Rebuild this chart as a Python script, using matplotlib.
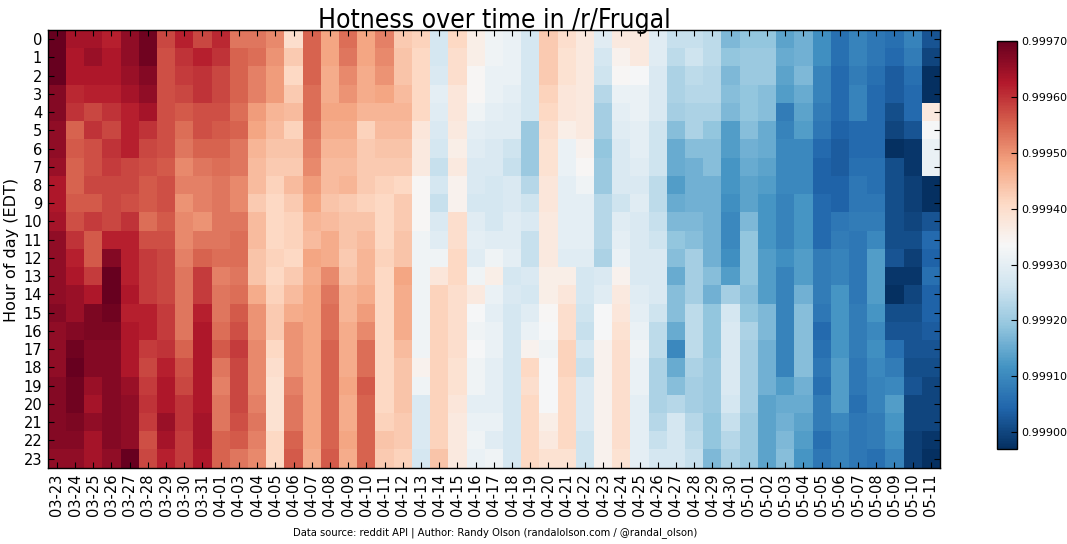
import matplotlib
matplotlib.use("Agg")
import matplotlib.pyplot as plt
import matplotlib.font_manager as fm
import numpy as np

dates = ["03-23", "03-24", "03-25", "03-26", "03-27", "03-28", "03-29", "03-30", "03-31",
         "04-01", "04-03", "04-04", "04-05", "04-06", "04-07", "04-08", "04-09", "04-10",
         "04-11", "04-12", "04-13", "04-14", "04-15", "04-16", "04-17", "04-18", "04-19",
         "04-20", "04-21", "04-22", "04-23", "04-24", "04-25", "04-26", "04-27", "04-28",
         "04-29", "04-30", "05-01", "05-02", "05-03", "05-04", "05-05", "05-06", "05-07",
         "05-08", "05-09", "05-10", "05-11"]
hours = list(range(24))

# hotness per hour of day, one value per date, as (hotness - 0.999) * 1e5
h00 = [70,64,64,62,66,69,58,62,58,61,53,53,51,40,55,48, 54,48,52,43,42,27,41,36,32,31,27,43,40,37,29,37, 37,29,25,25,24,17,19,19,14,16,11,6,9,7,6,9,2]
h01 = [70,63,65,63,66,69,57,60,62,60,55,54,50,43,55,48, 53,48,51,44,41,27,40,36,32,31,27,43,39,37,27,35, 37,29,24,26,24,19,20,20,15,16,11,6,9,7,5,8,0]
h02 = [70,63,63,63,65,67,57,59,60,58,55,52,49,41,55,47, 51,47,50,44,41,28,40,34,31,31,27,43,39,37,26,34, 33,28,22,24,23,17,20,20,14,17,9,5,8,6,3,6,-3]
h03 = [67,61,62,62,64,66,57,58,60,58,55,52,49,43,54,47, 50,47,48,45,41,30,38,34,31,30,27,42,38,37,23,31, 31,28,22,23,23,18,19,18,13,15,9,5,9,5,3,5,-3]
h04 = [67,60,58,60,62,64,57,56,57,57,54,49,46,45,54,48, 48,46,46,46,41,29,38,32,30,29,27,41,38,37,21,30, 31,28,21,22,22,17,19,18,8,14,8,5,9,5,1,5,37]
h05 = [66,55,60,58,62,60,57,54,57,56,55,48,45,42,53,47, 47,42,45,45,38,28,37,30,29,29,20,40,36,37,21,29, 30,26,18,22,19,13,18,15,9,13,7,4,5,5,0,2,33]
h06 = [66,56,57,60,62,58,57,53,55,55,53,46,44,44,52,46, 46,43,44,44,37,27,36,29,28,26,20,39,31,35,19,28, 30,26,15,18,18,13,16,15,10,10,5,3,5,5,-3,-2,31]
h07 = [65,55,57,59,58,57,56,51,53,54,53,45,43,43,51,45, 45,43,43,43,37,25,37,28,28,25,20,39,31,34,20,28, 29,26,15,16,18,12,15,14,10,10,4,3,6,6,1,-2,31]
h08 = [63,55,58,58,58,56,57,52,52,53,51,45,42,45,49,45, 46,43,42,41,34,27,35,28,27,28,23,38,30,32,20,28, 28,24,13,16,16,12,14,13,10,10,4,4,7,6,1,-1,-3]
h09 = [63,56,56,58,57,56,57,50,52,53,51,43,41,43,48,44, 43,42,41,43,34,25,35,27,27,28,26,38,30,30,23,26, 29,24,15,16,16,11,14,12,9,12,5,4,7,7,1,-1,-3]
h10 = [64,57,59,58,60,54,56,51,50,53,53,45,41,42,46,45, 44,44,41,43,34,28,40,29,27,29,28,37,30,30,23,29, 28,25,17,17,16,10,17,12,9,12,5,7,8,8,1,0,2]
h11 = [66,60,56,62,62,57,57,51,53,53,54,45,41,42,45,47, 44,45,41,44,32,29,40,30,29,29,25,37,30,30,23,30, 28,26,19,18,16,10,19,12,9,12,5,8,7,10,1,1,5]
h12 = [66,62,56,67,62,59,58,52,55,54,54,44,42,41,48,47, 43,46,42,44,32,32,41,29,32,30,25,37,29,29,22,31, 28,28,18,21,16,11,19,13,11,13,8,9,7,13,2,-1,4]
h13 = [66,63,59,70,62,59,58,53,59,52,53,44,41,43,47,51, 44,46,41,48,32,38,41,32,36,27,28,36,36,27,28,35, 28,28,15,21,18,13,19,13,9,13,8,9,7,13,-2,-2,6]
h14 = [66,65,63,70,63,59,58,53,59,53,54,47,42,45,48,53, 46,47,41,47,32,42,40,37,31,28,27,36,38,27,29,37, 29,28,18,21,16,21,18,13,9,16,8,12,7,13,-3,0,4]
h15 = [67,65,68,69,62,62,59,53,62,53,56,50,43,47,48,54, 46,49,41,47,32,42,40,33,30,27,29,34,40,26,33,38, 30,26,18,24,19,27,19,17,9,18,7,12,8,12,1,1,4]
h16 = [66,67,68,68,63,62,59,53,63,54,57,50,43,50,48,54, 47,51,41,47,32,42,40,32,31,27,31,33,40,25,33,39, 31,24,15,24,19,28,22,17,9,18,5,12,8,10,2,2,3]
h17 = [66,69,67,67,63,59,60,55,63,56,59,51,41,50,48,55, 47,54,41,45,32,42,40,33,31,27,35,32,42,27,35,40, 32,24,10,24,19,28,21,16,9,18,6,12,8,11,6,2,2]
h18 = [66,70,67,67,63,58,62,57,63,53,58,51,40,50,48,55, 47,54,41,44,35,42,39,32,30,27,41,33,42,25,35,40, 31,22,15,22,20,28,21,16,9,18,7,13,7,10,8,1,1]
h19 = [67,69,65,67,65,59,63,58,63,52,58,51,39,52,48,55, 48,56,41,44,32,42,39,32,30,27,40,33,41,28,35,40, 31,22,18,21,20,28,21,16,13,16,6,13,7,9,10,2,0]
h20 = [67,69,64,67,66,60,63,60,63,53,58,52,39,53,48,55, 47,55,41,44,28,42,38,30,30,27,41,33,41,28,35,40, 30,22,23,21,20,27,21,14,15,15,8,13,6,9,13,0,0]
h21 = [67,68,66,67,66,59,65,60,64,53,57,53,39,53,48,55, 47,55,42,43,28,42,37,31,31,27,41,36,41,28,35,40, 30,23,27,23,19,25,20,14,16,14,8,10,7,8,12,0,0]
h22 = [67,67,64,67,66,57,64,59,64,55,56,52,41,55,48,55, 48,55,44,43,28,42,37,32,29,27,41,37,41,26,35,40, 30,25,27,24,19,23,20,14,17,13,6,9,7,8,11,-1,-2]
h23 = [66,66,64,66,70,58,62,59,63,55,53,51,41,56,47,56, 47,55,43,42,27,44,37,31,32,27,41,39,39,26,35,39, 30,27,27,25,17,22,20,14,18,12,7,9,7,6,9,-1,-3]

rows = [h00, h01, h02, h03, h04, h05, h06, h07, h08, h09, h10, h11,
        h12, h13, h14, h15, h16, h17, h18, h19, h20, h21, h22, h23]
hot = 0.999 + np.array(rows, dtype=float) * 1e-5

cbar_ticks = [0.99900, 0.99910, 0.99920, 0.99930, 0.99940, 0.99950, 0.99960, 0.99970]

# narrow font for title / footer if one is around
narrow = fm.FontProperties(family="DejaVu Sans")
for f in fm.fontManager.ttflist:
    if f.fname.endswith("DejaVuSansCondensed.ttf"):
        narrow = fm.FontProperties(fname=f.fname)
        break
else:
    if any(f.name == "Liberation Sans Narrow" for f in fm.fontManager.ttflist):
        narrow = fm.FontProperties(family="Liberation Sans Narrow")

W, H = 1067, 544
fig = plt.figure(figsize=(W / 100, H / 100), dpi=100, facecolor="white")

ax = fig.add_axes([47.7 / W, 1 - 467.7 / H, 892.3 / W, 437.7 / H])
mesh = ax.pcolormesh(hot, cmap="RdBu_r", vmin=0.99897, vmax=0.99970)
ax.set_xlim(0, len(dates))
ax.set_ylim(len(hours), 0)
ax.set_xticks(np.arange(len(dates)) + 0.5)
ax.set_xticklabels(dates, rotation=90)
ax.set_yticks(np.arange(len(hours)) + 0.5)
ax.set_yticklabels([str(h) for h in hours])
ax.tick_params(direction="in", length=4, width=0.8, top=True, right=True,
               labelsize=10.5, pad=4)
for s in ax.spines.values():
    s.set_linewidth(1.0)

cax = fig.add_axes([997 / W, 1 - 449 / H, 20 / W, 408 / H])
cb = fig.colorbar(mesh, cax=cax)
cb.set_ticks(cbar_ticks)
cb.set_ticklabels(["%.5f" % t for t in cbar_ticks])
cax.tick_params(direction="in", length=4, width=0.8, labelsize=8, pad=3)
cb.outline.set_linewidth(1.0)

fig.text(494 / W, 1 - 28.5 / H, "Hotness over time in /r/Frugal", ha="center",
         va="baseline", fontproperties=narrow, fontsize=19)
fig.text(12 / W, 1 - 250 / H, "Hour of day (EDT)", rotation=90, ha="center",
         va="center", fontsize=11.5)
foot = narrow.copy()
foot.set_size(8.0)
fig.text(495 / W, 1 - 535.5 / H,
         "Data source: reddit API | Author: Randy Olson (randalolson.com / @randal_olson)",
         ha="center", va="baseline", fontproperties=foot)

fig.savefig("out.png", dpi=100, facecolor="white")
